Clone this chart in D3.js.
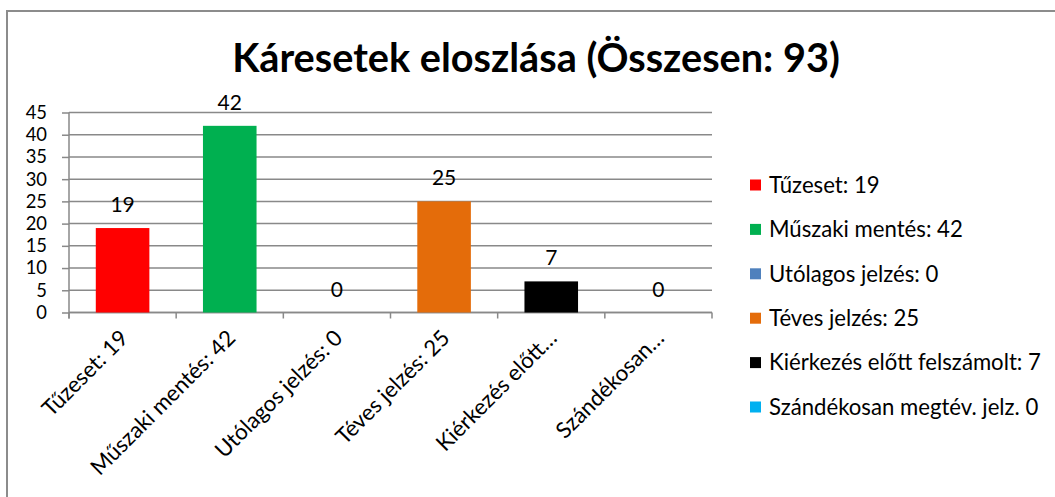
<!DOCTYPE html>
<html>
<head>
<meta charset="utf-8">
<script src="https://cdn.jsdelivr.net/npm/d3@7"></script>
<style>
  html, body { margin: 0; padding: 0; background: #fff; }
  svg { display: block; }
  text { font-family: Lato, "Open Sans", sans-serif; fill: #000; }
</style>
</head>
<body>
<svg id="chart" width="1055" height="497"></svg>
<script>
const title = "Káresetek eloszlása (Összesen: 93)";
const categories = ["Tűzeset: 19", "Műszaki mentés: 42", "Utólagos jelzés: 0", "Téves jelzés: 25", "Kiérkezés előtt…", "Szándékosan…"];
const legendLabels = ["Tűzeset: 19", "Műszaki mentés: 42", "Utólagos jelzés: 0", "Téves jelzés: 25", "Kiérkezés előtt felszámolt: 7", "Szándékosan megtév. jelz. 0"];
const values = [19, 42, 0, 25, 7, 0];
const colors = ["#FF0000", "#00B050", "#4F81BD", "#E46C0A", "#000000", "#00B0F0"];
const yTicks = [0, 5, 10, 15, 20, 25, 30, 35, 40, 45];

const svg = d3.select("#chart");

function fitSize(str, target, weight) {
  const t = svg.append("text").attr("font-size", 100).attr("font-weight", weight || "normal").text(str);
  const w = t.node().getComputedTextLength();
  t.remove();
  return 100 * target / w;
}
const fs = fitSize("Kiérkezés előtt felszámolt: 7", 272);
const tfs = fitSize(title, 608, "bold");
const yfs = Math.min(fs, 18.4);   // y tick numbers (tight spacing)
const vfs = Math.min(fs, 21);     // value labels

// border
svg.append("rect").attr("x", 7).attr("y", 11).attr("width", 1060).attr("height", 500)
  .attr("fill", "none").attr("stroke", "#8c8c8c").attr("stroke-width", 2);

// title
svg.append("text").attr("x", 536).attr("y", 72).attr("text-anchor", "middle")
  .attr("font-weight", "bold").attr("font-size", tfs).text(title);

const x0 = 69, x1 = 712, y0 = 312.5, y1 = 112.5;
const x = d3.scaleBand().domain(categories).range([x0, x1]).paddingInner(0.5).paddingOuter(0.25);
const y = d3.scaleLinear().domain([0, 45]).range([y0, y1]);
const gridColor = "#898989";

// gridlines
svg.append("g").selectAll("line").data(yTicks).join("line")
  .attr("x1", x0).attr("x2", x1)
  .attr("y1", d => y(d)).attr("y2", d => y(d))
  .attr("stroke", gridColor).attr("stroke-width", 1.5);

// y axis
const yAxis = svg.append("g").attr("transform", `translate(${x0},0)`)
  .call(d3.axisLeft(y).tickValues(yTicks).tickSize(7).tickPadding(15));
yAxis.attr("font-size", null).attr("font-family", null);
yAxis.select(".domain").attr("d", `M0,${y1}V${y0 + 6}`).attr("stroke", gridColor).attr("stroke-width", 1.5);
yAxis.selectAll(".tick line").attr("stroke", gridColor).attr("stroke-width", 1.5);
yAxis.selectAll(".tick text").style("font-size", yfs + "px").style("font-family", "Lato, sans-serif").attr("fill", "#000");

// x axis
const step = (x1 - x0) / categories.length;
const xb = svg.append("g").attr("transform", `translate(0,${y0})`);
xb.append("line").attr("x1", x0).attr("x2", x1).attr("y1", 0).attr("y2", 0)
  .attr("stroke", gridColor).attr("stroke-width", 1.5);
xb.selectAll("line.tk").data(d3.range(categories.length + 1)).join("line").attr("class", "tk")
  .attr("x1", i => x0 + i * step).attr("x2", i => x0 + i * step)
  .attr("y1", 0).attr("y2", 6).attr("stroke", gridColor).attr("stroke-width", 1.5);
xb.selectAll("text").data(categories).join("text")
  .attr("font-size", fs).attr("text-anchor", "end")
  .attr("transform", d => `translate(${x(d) + x.bandwidth() / 2 + 7},${27}) rotate(-45)`)
  .text(d => d);

// bars
svg.append("g").selectAll("rect").data(values).join("rect")
  .attr("x", (d, i) => x(categories[i]))
  .attr("width", x.bandwidth())
  .attr("y", d => y(d))
  .attr("height", d => y0 - y(d))
  .attr("fill", (d, i) => colors[i]);

// value labels
svg.append("g").selectAll("text").data(values).join("text")
  .attr("x", (d, i) => x(categories[i]) + x.bandwidth() / 2)
  .attr("y", d => y(d) - 16)
  .attr("text-anchor", "middle").attr("font-size", vfs)
  .text(d => d);

// legend
const leg = svg.append("g");
const legY = d3.scalePoint().domain(d3.range(legendLabels.length)).range([185, 407]);
legendLabels.forEach((l, i) => {
  const cy = legY(i);
  leg.append("rect").attr("x", 750).attr("y", cy - 5.5).attr("width", 11).attr("height", 11).attr("fill", colors[i]);
  leg.append("text").attr("x", 769).attr("y", cy + fs * 0.35).attr("font-size", fs).text(l);
});
</script>
</body>
</html>
